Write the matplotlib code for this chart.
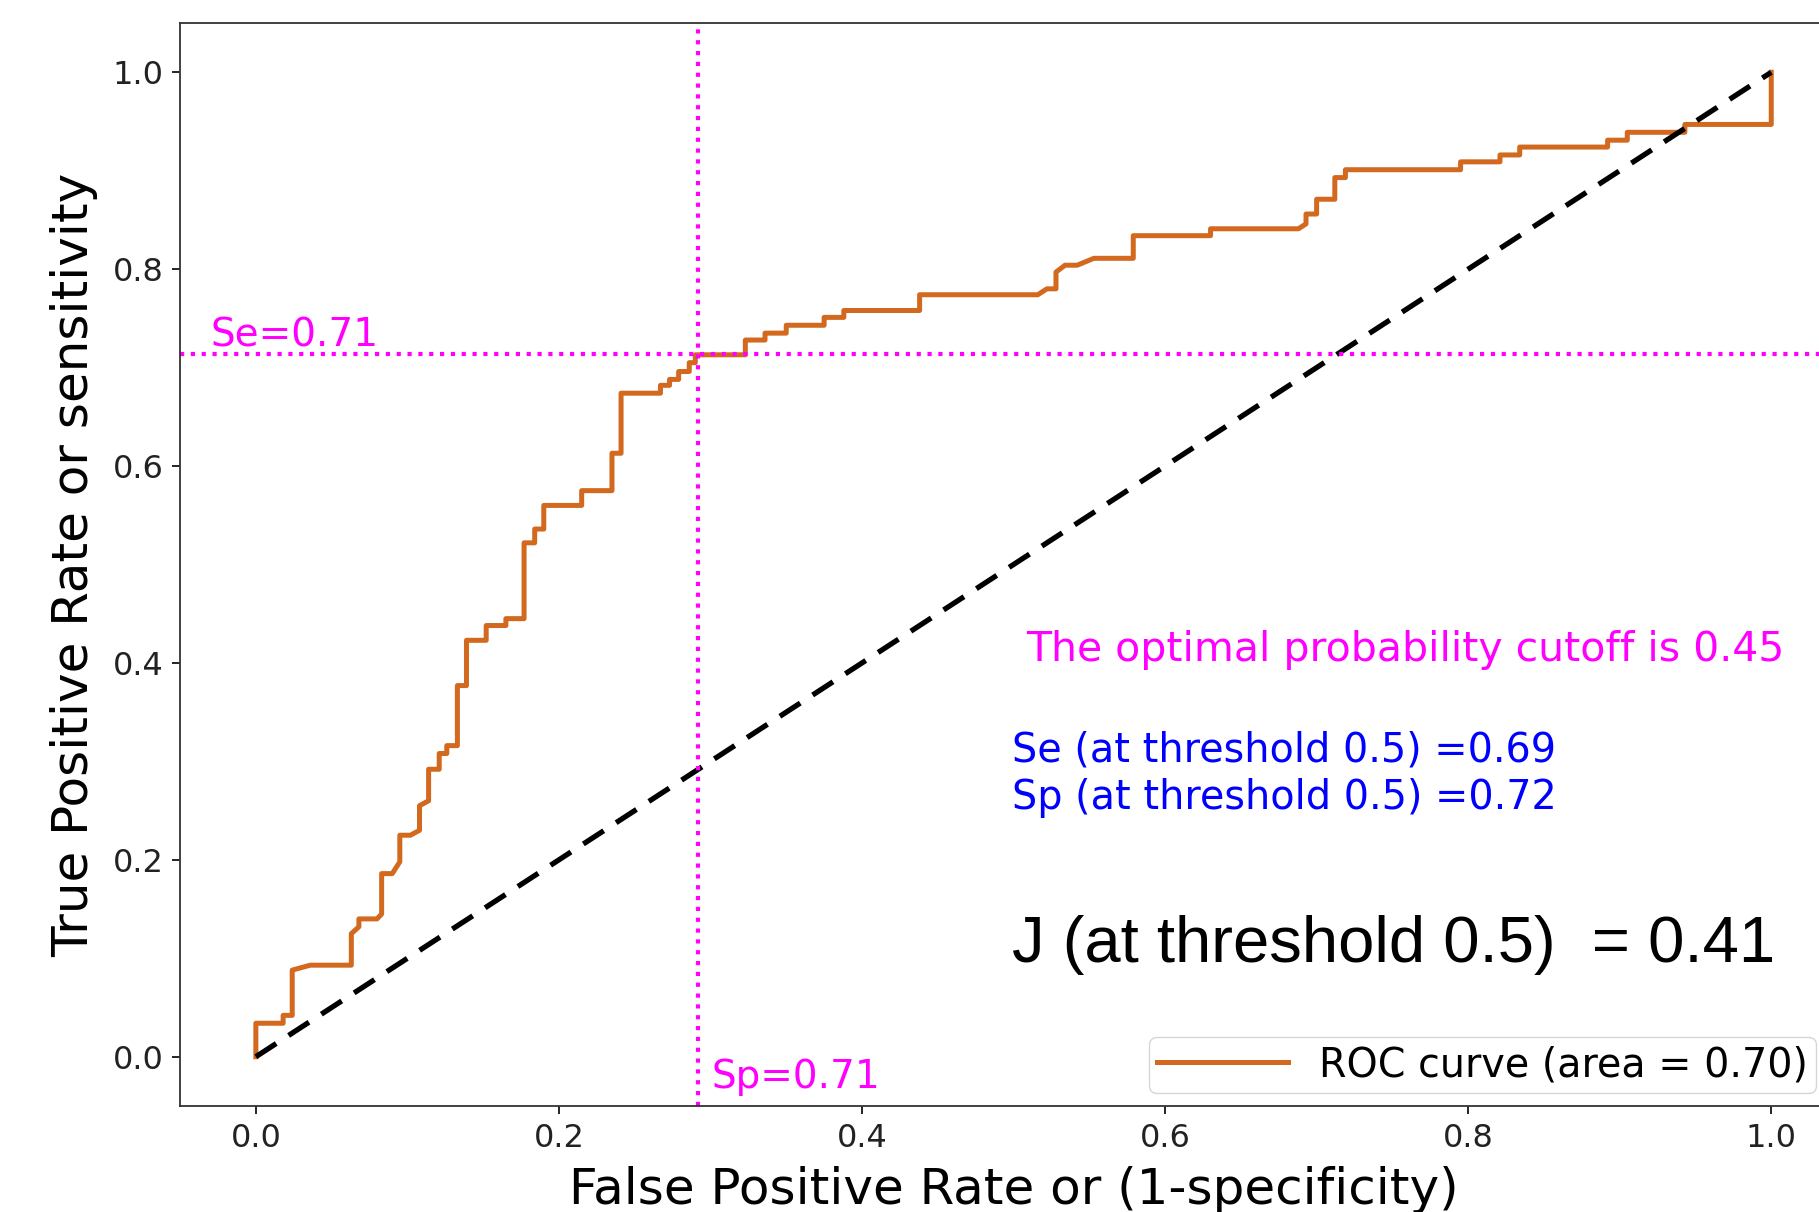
import matplotlib
matplotlib.use("Agg")
import matplotlib.pyplot as plt

# ROC curve corners (false positive rate, true positive rate)
fpr = [0, 0, 0.018, 0.018, 0.024, 0.024, 0.036, 0.063, 0.063, 0.068,
       0.068, 0.080, 0.083, 0.083, 0.090, 0.095, 0.095, 0.102, 0.108, 0.108,
       0.114, 0.114, 0.121, 0.121, 0.126, 0.126, 0.133, 0.133, 0.139, 0.139,
       0.152, 0.152, 0.165, 0.165, 0.177, 0.177, 0.184, 0.184, 0.190, 0.190,
       0.215, 0.215, 0.235, 0.235, 0.241, 0.241, 0.267, 0.267, 0.273, 0.273,
       0.279, 0.279, 0.286, 0.286, 0.290, 0.290, 0.323, 0.323, 0.336, 0.336,
       0.350, 0.350, 0.375, 0.375, 0.388, 0.388, 0.438, 0.438, 0.516, 0.522,
       0.528, 0.528, 0.534, 0.542, 0.553, 0.579, 0.579, 0.630, 0.630, 0.688,
       0.693, 0.693, 0.700, 0.700, 0.712, 0.712, 0.719, 0.719, 0.795, 0.795,
       0.821, 0.821, 0.834, 0.834, 0.892, 0.892, 0.905, 0.905, 0.943, 0.943,
       1.0, 1.0]
tpr = [0, 0.034, 0.034, 0.042, 0.042, 0.088, 0.093, 0.093, 0.125, 0.132,
       0.140, 0.140, 0.145, 0.186, 0.186, 0.198, 0.225, 0.225, 0.230, 0.255,
       0.260, 0.292, 0.292, 0.308, 0.308, 0.316, 0.316, 0.377, 0.377, 0.423,
       0.423, 0.438, 0.438, 0.445, 0.445, 0.522, 0.522, 0.536, 0.536, 0.560,
       0.560, 0.575, 0.575, 0.613, 0.613, 0.674, 0.674, 0.682, 0.682, 0.688,
       0.688, 0.696, 0.696, 0.705, 0.705, 0.713, 0.713, 0.728, 0.728, 0.735,
       0.735, 0.743, 0.743, 0.751, 0.751, 0.758, 0.758, 0.774, 0.774, 0.780,
       0.780, 0.797, 0.804, 0.804, 0.811, 0.811, 0.834, 0.834, 0.841, 0.841,
       0.846, 0.856, 0.856, 0.871, 0.871, 0.893, 0.893, 0.901, 0.901, 0.909,
       0.909, 0.916, 0.916, 0.924, 0.924, 0.931, 0.931, 0.939, 0.939, 0.947,
       0.947, 1.0]

roc_auc = 0.70
opt_se = 0.714
opt_sp = 0.708
opt_cutoff = 0.45
se_05 = 0.69
sp_05 = 0.72
youden_05 = 0.41

fig = plt.figure(figsize=(18.19, 12.12), dpi=100)
ax = fig.add_axes([0.099, 0.0875, 0.9164, 0.8935])

ax.plot(fpr, tpr, color='#d2691e', lw=3.6, label='ROC curve (area = %0.2f)' % roc_auc)
ax.plot([0, 1], [0, 1], color='black', lw=3.8, linestyle=(0, (4.6, 2.8)))

# optimal cut-off lines
ax.axhline(opt_se, color='magenta', lw=3, linestyle=(0, (1, 1.6)))
ax.axvline(1 - opt_sp, color='magenta', lw=3, linestyle=(0, (1, 1.6)))

ax.text(-0.03, opt_se + 0.007, 'Se=%0.2f' % opt_se, color='magenta', fontsize=28)
ax.text(1 - opt_sp + 0.009, -0.032, 'Sp=%0.2f' % opt_sp, color='magenta', fontsize=28)

ax.text(0.508, 0.413, 'The optimal probability cutoff is %0.2f' % opt_cutoff,
        color='magenta', fontsize=29.5, va='center')
ax.text(0.499, 0.30, 'Se (at threshold 0.5) =%0.2f' % se_05, color='blue', fontsize=28.6)
ax.text(0.499, 0.252, 'Sp (at threshold 0.5) =%0.2f' % sp_05, color='blue', fontsize=28.6)
ax.text(0.499, 0.096, 'J (at threshold 0.5)  = %0.2f' % youden_05, color='black',
        fontsize=47, family=['Liberation Sans', 'DejaVu Sans'])

ax.set_xlim(-0.05, 1.05)
ax.set_ylim(-0.05, 1.05)
ax.set_xticks([0, 0.2, 0.4, 0.6, 0.8, 1.0])
ax.set_yticks([0, 0.2, 0.4, 0.6, 0.8, 1.0])
ax.tick_params(labelsize=23, length=6, width=1.2, pad=6, labelcolor='#222222')
for s in ax.spines.values():
    s.set_linewidth(1.3)
    s.set_color('#333333')

ax.set_xlabel('False Positive Rate or (1-specificity)', fontsize=36, labelpad=9)
ax.set_ylabel('True Positive Rate or sensitivity', fontsize=36, labelpad=10)
ax.legend(loc='lower right', bbox_to_anchor=(0.9815, 0.012), fontsize=28.5,
          handlelength=3.3, borderpad=0.2, borderaxespad=0)

fig.savefig('out.png', dpi=100)
